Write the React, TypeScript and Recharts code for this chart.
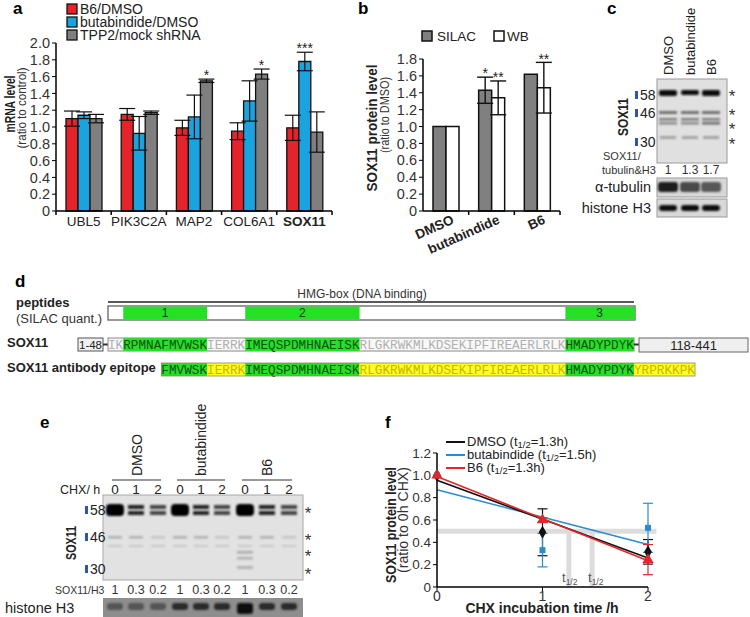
import React from 'react';
import {
  BarChart, Bar, XAxis, YAxis, ErrorBar, LabelList,
  ComposedChart, Line, Scatter, ReferenceLine, Symbols,
} from 'recharts';

const FONT = '"Liberation Sans", Arial, Helvetica, sans-serif';
const MONO = '"Liberation Mono", "Courier New", monospace';

// ---- panel a: mRNA levels
const genes = ['UBL5', 'PIK3C2A', 'MAP2', 'COL6A1', 'SOX11'];
const b6Dmso = [1.10, 1.15, 0.99, 0.95, 0.99];
const b6DmsoErr = [0.09, 0.07, 0.09, 0.10, 0.15];
const butaDmso = [1.14, 0.925, 1.12, 1.31, 1.78];
const butaDmsoErr = [0.04, 0.20, 0.26, 0.24, 0.11];
const tpp2Mock = [1.10, 1.17, 1.55, 1.63, 0.94];
const tpp2MockErr = [0.05, 0.02, 0.02, 0.06, 0.24];
const butaStars = ['', '', '', '', '***'];
const tpp2Stars = ['', '', '*', '*', ''];
const legendA = ['B6/DMSO', 'butabindide/DMSO', 'TPP2/mock shRNA'];
const colorsA = ['#e4232b', '#1ba3e0', '#7f7f7f'];
const ticksA = [0, 0.2, 0.4, 0.6, 0.8, 1.0, 1.2, 1.4, 1.6, 1.8, 2.0];

// ---- panel b: SOX11 protein
const treatments = ['DMSO', 'butabindide', 'B6'];
const silac = [1.0, 1.43, 1.62];
const silacErr = [0, 0.155, 0];
const wb = [1.0, 1.34, 1.46];
const wbErr = [0, 0.2, 0.3];
const silacStars = ['', '*', ''];
const wbStars = ['', '**', '**'];
const ticksB = [0, 0.2, 0.4, 0.6, 0.8, 1.0, 1.2, 1.4, 1.6, 1.8];

// ---- panel c: blot quantification
const lanesC = ['DMSO', 'butabindide', 'B6'];
const ratioC = ['1', '1.3', '1.7'];

// ---- panel e: CHX chase
const groupsE = ['DMSO', 'butabindide', 'B6'];
const chxHours = ['0', '1', '2'];
const ratioE = ['1', '0.3', '0.2'];

// ---- panel f: decay
const timeH = [0, 1, 2];
const dmsoMean = [1.0, 0.49, 0.315];
const dmsoErr = [0, 0.21, 0.11];
const butaMean = [1.0, 0.33, 0.53];
const butaErr = [0, 0.15, 0.22];
const b6Mean = [1.0, 0.60, 0.245];
const b6Err = [0, 0.02, 0.135];
const fitTimes = [0, 2];
const dmsoFit = [0.955, 0.26];
const butaFit = [0.87, 0.38];
const b6Fit = [0.99, 0.235];
const halfLives = [1.25, 1.47];
const ticksF = [0, 0.2, 0.4, 0.6, 0.8, 1.0, 1.2];

// ---- panel d: sequence
const sox11Seq: [string, string][] = [
  ['IK', 'plain'], ['RPMNAFMVWSK', 'pep'], ['IERRK', 'plain'],
  ['IMEQSPDMHNAEISK', 'pep'], ['RLGKRWKMLKDSEKIPFIREAERLRLK', 'plain'], ['HMADYPDYK', 'pep'],
];
const epitopeSeq: [string, string][] = [
  ['FMVWSK', 'pep'], ['IERRK', 'epi'], ['IMEQSPDMHNAEISK', 'pep'],
  ['RLGKRWKMLKDSEKIPFIREAERLRLK', 'epi'], ['HMADYPDYK', 'pep'], ['YRPRKKPK', 'epi'],
];
const epitopeStart = 7;
const peptideNames = ['1', '2', '3'];

const fmt = (v: number) => (v === 0 ? '0' : v.toFixed(1));

const A_W = 276;
const A_PPU = 84;
const B_W = 137;
const B_PPU = 84;

const starContent = (errs: number[], ppu: number) => (p: any) => {
  const vb = p.viewBox ?? p;
  const v = p.value;
  if (!v) return null;
  const i = p.index ?? 0;
  return (
    <text x={vb.x + vb.width / 2} y={vb.y - errs[i] * ppu + 1} textAnchor="middle" fontSize={14} fill="#222">
      {v}
    </text>
  );
};

const GeneTick = (p: any) => {
  const { x, y, payload, index } = p;
  const bw = A_W / genes.length;
  return (
    <g>
      <line x1={x - bw / 2} x2={x - bw / 2} y1={y} y2={y + 4} stroke="#000" strokeWidth={1.5} />
      {index === genes.length - 1 && (
        <line x1={x + bw / 2} x2={x + bw / 2} y1={y} y2={y + 4} stroke="#000" strokeWidth={1.5} />
      )}
      <text x={x} y={y + 15} textAnchor="middle" fontSize={13.5} fill="#222"
        fontWeight={payload.value === 'SOX11' ? 'bold' : 'normal'}>{payload.value}</text>
    </g>
  );
};

const TreatTick = (p: any) => {
  const { x, y, payload, index } = p;
  const bw = B_W / treatments.length;
  return (
    <g>
      {index > 0 && <line x1={x - bw / 2} x2={x - bw / 2} y1={y} y2={y + 4} stroke="#000" strokeWidth={1.5} />}
      {index === treatments.length - 1 && (
        <line x1={x + bw / 2} x2={x + bw / 2} y1={y} y2={y + 4} stroke="#000" strokeWidth={1.5} />
      )}
      <text transform={`translate(${x + 9},${y + 12}) rotate(-24)`} textAnchor="end" fontSize={13.5}
        fontWeight="bold" fill="#222">{payload.value}</text>
    </g>
  );
};

function PanelA() {
  const data = genes.map((g, i) => ({
    gene: g, b6: b6Dmso[i], b6e: b6DmsoErr[i],
    buta: butaDmso[i], butae: butaDmsoErr[i], butas: butaStars[i],
    tpp2: tpp2Mock[i], tpp2e: tpp2MockErr[i], tpp2s: tpp2Stars[i],
  }));
  return (
    <div style={{ position: 'absolute', left: 0, top: 0 }}>
      <BarChart width={340} height={240} data={data} margin={{ top: 43, right: 8, bottom: 0, left: 0 }} barGap={0}>
        <YAxis width={56} domain={[0, 2]} ticks={ticksA} interval={0} tickFormatter={fmt} tickSize={4}
          axisLine={{ stroke: '#000', strokeWidth: 1.5 }} tickLine={{ stroke: '#000' }}
          tick={{ fill: '#333', fontSize: 14.5 }} />
        <XAxis dataKey="gene" height={29} tickSize={0} tickMargin={0} interval={0} tickLine={false}
          axisLine={{ stroke: '#000', strokeWidth: 1.5 }} tick={<GeneTick />} />
        <Bar dataKey="b6" fill={colorsA[0]} stroke="#111" strokeWidth={1.3} barSize={12} isAnimationActive={false}>
          <ErrorBar dataKey="b6e" width={8} stroke="#111" strokeWidth={1.2} />
        </Bar>
        <Bar dataKey="buta" fill={colorsA[1]} stroke="#111" strokeWidth={1.3} barSize={12} isAnimationActive={false}>
          <ErrorBar dataKey="butae" width={8} stroke="#111" strokeWidth={1.2} />
          <LabelList dataKey="butas" content={starContent(butaDmsoErr, A_PPU)} />
        </Bar>
        <Bar dataKey="tpp2" fill={colorsA[2]} stroke="#111" strokeWidth={1.3} barSize={12} isAnimationActive={false}>
          <ErrorBar dataKey="tpp2e" width={8} stroke="#111" strokeWidth={1.2} />
          <LabelList dataKey="tpp2s" content={starContent(tpp2MockErr, A_PPU)} />
        </Bar>
      </BarChart>
    </div>
  );
}

function PanelB() {
  const data = treatments.map((t, i) => ({
    t, s: silac[i], se: silacErr[i], ss: silacStars[i], w: wb[i], we: wbErr[i], ws: wbStars[i],
  }));
  return (
    <div style={{ position: 'absolute', left: 340, top: 0 }}>
      <BarChart width={230} height={265} data={data} margin={{ top: 59, right: 10, bottom: 0, left: 0 }} barGap={0}>
        <YAxis width={83} domain={[0, 1.8]} ticks={ticksB} interval={0} tickFormatter={fmt} tickSize={4}
          axisLine={{ stroke: '#000', strokeWidth: 1.5 }} tickLine={{ stroke: '#000' }}
          tick={{ fill: '#333', fontSize: 14.5 }} />
        <XAxis dataKey="t" height={54} tickSize={0} tickMargin={0} interval={0} tickLine={false}
          axisLine={{ stroke: '#000', strokeWidth: 1.5 }} tick={<TreatTick />} />
        <Bar dataKey="s" fill="#808080" stroke="#111" strokeWidth={1.5} barSize={13} isAnimationActive={false}>
          <ErrorBar dataKey="se" width={8} stroke="#111" strokeWidth={1.4} />
          <LabelList dataKey="ss" content={starContent(silacErr, B_PPU)} />
        </Bar>
        <Bar dataKey="w" fill="#fff" stroke="#111" strokeWidth={1.5} barSize={13} isAnimationActive={false}>
          <ErrorBar dataKey="we" width={8} stroke="#111" strokeWidth={1.4} />
          <LabelList dataKey="ws" content={starContent(wbErr, B_PPU)} />
        </Bar>
      </BarChart>
    </div>
  );
}

const shapeOf = (type: any, fill: string, size: number) => (p: any) =>
  <Symbols cx={p.cx} cy={p.cy} type={type} size={size} fill={fill} />;

function PanelF() {
  const pts = (m: number[], e: number[]) => timeH.map((x, i) => ({ x, y: m[i], e: e[i] }));
  const fit = (f: number[]) => fitTimes.map((x, i) => ({ x, y: f[i] }));
  const gray = '#dcdcdc';
  return (
    <div style={{ position: 'absolute', left: 370, top: 400 }}>
      <ComposedChart width={380} height={217} margin={{ top: 53, right: 102, bottom: 0, left: 0 }}>
        <XAxis type="number" dataKey="x" domain={[0, 2]} ticks={timeH} interval={0} height={30} tickSize={4}
          tickMargin={0} axisLine={{ stroke: '#000', strokeWidth: 1.5 }} tickLine={{ stroke: '#000' }}
          tick={{ fill: '#333', fontSize: 14 }} />
        <YAxis type="number" dataKey="y" domain={[0, 1.2]} ticks={ticksF} interval={0} width={67} tickSize={4}
          tickFormatter={fmt} axisLine={{ stroke: '#000', strokeWidth: 1.5 }} tickLine={{ stroke: '#000' }}
          tick={{ fill: '#333', fontSize: 13.5 }} />
        <ReferenceLine segment={[{ x: 0, y: 0.5 }, { x: 2.08, y: 0.5 }]} stroke={gray} strokeWidth={5} ifOverflow="visible" />
        {halfLives.map((h) => (
          <ReferenceLine key={h} segment={[{ x: h, y: 0 }, { x: h, y: 0.5 }]} stroke={gray} strokeWidth={5} ifOverflow="visible" />
        ))}
        <Line data={fit(butaFit)} dataKey="y" type="linear" stroke="#2a8ccc" strokeWidth={1.6} dot={false} activeDot={false} isAnimationActive={false} />
        <Line data={fit(dmsoFit)} dataKey="y" type="linear" stroke="#111" strokeWidth={1.6} dot={false} activeDot={false} isAnimationActive={false} />
        <Line data={fit(b6Fit)} dataKey="y" type="linear" stroke="#e3262b" strokeWidth={1.6} dot={false} activeDot={false} isAnimationActive={false} />
        <Scatter data={pts(dmsoMean, dmsoErr)} dataKey="y" shape={shapeOf('diamond', '#111', 50)} isAnimationActive={false}>
          <ErrorBar dataKey="e" direction="y" width={5} stroke="#111" strokeWidth={1.2} />
        </Scatter>
        <Scatter data={pts(butaMean, butaErr)} dataKey="y" shape={shapeOf('square', '#2a8ccc', 36)} isAnimationActive={false}>
          <ErrorBar dataKey="e" direction="y" width={5} stroke="#2a8ccc" strokeWidth={1.2} />
        </Scatter>
        <Scatter data={pts(b6Mean, b6Err)} dataKey="y" shape={shapeOf('triangle', '#e3262b', 55)} isAnimationActive={false}>
          <ErrorBar dataKey="e" direction="y" width={5} stroke="#e3262b" strokeWidth={1.2} />
        </Scatter>
      </ComposedChart>
    </div>
  );
}

function Marker({ x, y, label }: { x: number; y: number; label: string }) {
  return (
    <g>
      <rect x={x} y={y - 4} width={3} height={8} fill="#2b55b0" />
      <text x={x + 5} y={y + 5} fontSize={14} fill="#222">{label}</text>
    </g>
  );
}

function Star({ x, y }: { x: number; y: number }) {
  return <text x={x} y={y + 9} fontSize={17} fill="#333" textAnchor="middle">*</text>;
}

// rotated axis title, squeezed to the length seen in the figure
function VText({ x, y, len, bold, size, children }: any) {
  return (
    <text transform={`translate(${x},${y}) rotate(-90)`} textAnchor="middle" fontSize={size}
      fontWeight={bold ? 'bold' : 'normal'} fill={bold ? '#222' : '#333'}
      textLength={len} lengthAdjust="spacingAndGlyphs">{children}</text>
  );
}

function Overlay() {
  const laneXc = [668, 690, 711];
  const laneXe = [115, 136, 158, 180, 201, 222, 245, 267, 289];
  const seqX0 = 108;
  const cw = 526 / 69;
  const green = '#26e026';
  const yellow = '#ffff22';
  let idx = 0;
  const soxRow = sox11Seq.map(([s, kind]) => {
    const x = seqX0 + idx * cw;
    idx += s.length;
    return { s, kind, x, w: s.length * cw };
  });
  idx = epitopeStart;
  const epiRow = epitopeSeq.map(([s, kind]) => {
    const x = seqX0 + idx * cw;
    idx += s.length;
    return { s, kind, x, w: s.length * cw };
  });
  const peps = soxRow.filter((r) => r.kind === 'pep');
  const textColor = (k: string) => (k === 'pep' ? '#0d520d' : k === 'epi' ? '#c9b400' : '#b0b0b0');

  return (
    <svg width={750} height={617} style={{ position: 'absolute', left: 0, top: 0, pointerEvents: 'none' }}
      fontFamily={FONT}>
      <defs>
        <filter id="bl" x="-20%" y="-50%" width="140%" height="200%">
          <feGaussianBlur stdDeviation="0.9" />
        </filter>
      </defs>

      {/* panel a */}
      <text x={13} y={14} fontSize={17} fontWeight="bold">a</text>
      {legendA.map((l, i) => (
        <g key={l}>
          <rect x={67} y={4 + 13 * i} width={10} height={10} fill={colorsA[i]} stroke="#111" strokeWidth={1.3} />
          <text x={80} y={13.5 + 13 * i} fontSize={14} fill="#222">{l}</text>
        </g>
      ))}
      <VText x={15} y={104} len={57} bold size={15.5}>mRNA level</VText>
      <VText x={26} y={108} len={81} size={13.5}>(ratio to control)</VText>

      {/* panel b */}
      <text x={358} y={14} fontSize={17} fontWeight="bold">b</text>
      <rect x={422} y={31} width={10} height={10} fill="#808080" stroke="#111" strokeWidth={1.5} />
      <text x={437} y={40.5} fontSize={13.5} fill="#222">SILAC</text>
      <rect x={494} y={31} width={10} height={10} fill="#fff" stroke="#111" strokeWidth={1.5} />
      <text x={507} y={40.5} fontSize={13.5} fill="#222">WB</text>
      <VText x={377} y={128} len={127} bold size={15}>SOX11 protein level</VText>
      <VText x={389} y={115} len={76} size={13}>(ratio to DMSO)</VText>

      {/* panel c */}
      <text x={607} y={14} fontSize={17} fontWeight="bold">c</text>
      {lanesC.map((l, i) => (
        <text key={l} transform={`translate(${laneXc[i] + 5},75) rotate(-90)`} fontSize={13} fill="#222">{l}</text>
      ))}
      <rect x={657} y={79} width={70} height={84} fill="#e0e0e0" stroke="#9a9a9a" />
      {laneXc.map((x, i) => (
        <g key={x} filter="url(#bl)">
          <rect x={x - 9} y={90} width={18} height={i === 1 ? 5 : 6} rx={2} fill="#0d0d0d" />
          <rect x={x - 9} y={111} width={18} height={3} fill="#707070" />
          <rect x={x - 9} y={118} width={18} height={2.5} fill="#7c7c7c" />
          <rect x={x - 9} y={122} width={18} height={2.5} fill={i === 2 ? '#6a6a6a' : '#8a8a8a'} />
          <rect x={x - 8} y={136} width={16} height={3} fill="#a4a4a4" />
        </g>
      ))}
      <Marker x={635} y={95} label="58" />
      <Marker x={635} y={113} label="46" />
      <Marker x={635} y={142} label="30" />
      <VText x={628} y={117} len={38} bold size={15}>SOX11</VText>
      {[93, 112, 126, 141].map((y) => <Star key={y} x={732} y={y} />)}
      <text x={603} y={160} fontSize={11} fill="#333">SOX11/</text>
      <text x={602} y={174} fontSize={11} fill="#333">tubulin&amp;H3</text>
      {ratioC.map((r, i) => (
        <text key={i} x={laneXc[i]} y={174} fontSize={12} textAnchor="middle" fill="#333">{r}</text>
      ))}
      <rect x={657} y={178} width={70} height={19} fill="#d8d8d8" stroke="#9a9a9a" />
      {laneXc.map((x, i) => (
        <rect key={x} x={x - 10} y={182} width={20} height={10} rx={3} filter="url(#bl)"
          fill={['#1a1a1a', '#4a4a4a', '#585858'][i]} />
      ))}
      <rect x={657} y={199} width={70} height={18} fill="#d8d8d8" stroke="#9a9a9a" />
      {laneXc.map((x) => (
        <rect key={x} x={x - 9} y={205} width={18} height={6} rx={3} filter="url(#bl)" fill="#111" />
      ))}
      <text x={651} y={192} fontSize={14.5} textAnchor="end" fill="#222">α-tubulin</text>
      <text x={651} y={213} fontSize={14.5} textAnchor="end" fill="#222">histone H3</text>

      {/* panel d */}
      <text x={15} y={287} fontSize={17} fontWeight="bold">d</text>
      <text x={16} y={307} fontSize={13} fontWeight="bold" fill="#222">peptides</text>
      <text x={16} y={323} fontSize={13} fill="#333">(SILAC quant.)</text>
      <line x1={108} x2={634} y1={302} y2={302} stroke="#222" strokeWidth={1.5} />
      <text x={362} y={298} fontSize={12} textAnchor="middle" fill="#333">HMG-box (DNA binding)</text>
      <rect x={108} y={306} width={527} height={14} fill="#fff" stroke="#555" strokeWidth={1.2} />
      {peps.map((p, i) => (
        <g key={i}>
          <rect x={p.x} y={306.6} width={p.w + (i === 2 ? 1 : 0)} height={12.8} fill={green} />
          <text x={p.x + p.w / 2} y={317} fontSize={12} textAnchor="middle" fill="#1a3a1a">{peptideNames[i]}</text>
        </g>
      ))}

      <text x={7} y={347} fontSize={13} fontWeight="bold" fill="#222">SOX11</text>
      <rect x={78} y={338} width={25} height={13} fill="#f0f0f0" stroke="#555" />
      <text x={90.5} y={348.5} fontSize={11.5} textAnchor="middle" fill="#222">1-48</text>
      <line x1={103} x2={108} y1={344.5} y2={344.5} stroke="#333" strokeWidth={2} />
      <rect x={108} y={338} width={526} height={13} fill="#f8f8f8" stroke="#888" />
      {soxRow.map((r, i) => (
        <g key={i}>
          {r.kind === 'pep' && <rect x={r.x} y={338} width={r.w} height={13} fill={green} />}
          <text x={r.x} y={348.5} fontSize={12.6} fontFamily={MONO} textLength={r.w} lengthAdjust="spacingAndGlyphs"
            fill={textColor(r.kind)}>{r.s}</text>
        </g>
      ))}
      <line x1={634} x2={639} y1={344.5} y2={344.5} stroke="#333" strokeWidth={2} />
      <rect x={639} y={338} width={109} height={14} fill="#efefef" stroke="#666" />
      <text x={693.5} y={349.5} fontSize={13} textAnchor="middle" fill="#222">118-441</text>

      <text x={7} y={372} fontSize={13} fontWeight="bold" fill="#222">SOX11 antibody epitope</text>
      {epiRow.map((r, i) => (
        <g key={i}>
          <rect x={r.x} y={363} width={r.w} height={13} fill={r.kind === 'pep' ? green : yellow} />
          <text x={r.x} y={373.5} fontSize={12.6} fontFamily={MONO} textLength={r.w} lengthAdjust="spacingAndGlyphs"
            fill={textColor(r.kind)}>{r.s}</text>
        </g>
      ))}
      <rect x={epiRow[0].x} y={363} width={epiRow[epiRow.length - 1].x + epiRow[epiRow.length - 1].w - epiRow[0].x}
        height={13} fill="none" stroke="#8a8a50" strokeWidth={0.8} />

      {/* panel e */}
      <text x={40} y={428} fontSize={17} fontWeight="bold">e</text>
      {groupsE.map((g, gi) => {
        const xs = laneXe.slice(gi * 3, gi * 3 + 3);
        const cx = (xs[0] + xs[2]) / 2;
        return (
          <g key={g}>
            <text transform={`translate(${cx + 5},476) rotate(-90)`} fontSize={14} fill="#222">{g}</text>
            <line x1={xs[0] - 3} x2={xs[2] + 3} y1={480} y2={480} stroke="#333" strokeWidth={1.2} />
            {chxHours.map((h, hi) => (
              <text key={hi} x={xs[hi]} y={494} fontSize={13.5} textAnchor="middle" fill="#222">{h}</text>
            ))}
            {ratioE.map((r, hi) => (
              <text key={hi} x={xs[hi]} y={594} fontSize={12.5} textAnchor="middle" fill="#333">{r}</text>
            ))}
          </g>
        );
      })}
      <text x={60} y={494} fontSize={12.5} fill="#222">CHX/ h</text>
      <rect x={103} y={495} width={200} height={85} fill="#e2e2e2" stroke="#a8a8a8" />
      {laneXe.map((x, i) => {
        const first = i % 3 === 0;
        return (
          <g key={x} filter="url(#bl)">
            {first ? (
              <rect x={x - 9} y={504} width={18} height={12} rx={4} fill="#050505" />
            ) : (
              <>
                <rect x={x - 8} y={505} width={16} height={4} fill={i % 3 === 1 ? '#222' : '#444'} />
                <rect x={x - 8} y={511} width={16} height={4} fill={i % 3 === 1 ? '#222' : '#444'} />
              </>
            )}
            <rect x={x - 7} y={536} width={14} height={2.5} fill={first || i % 3 === 1 ? '#b0b0b0' : '#c4c4c4'} />
            <rect x={x - 7} y={545} width={14} height={2} fill="#c6c6c6" />
            {i === 6 && (
              <>
                <rect x={x - 8} y={551} width={16} height={2.5} fill="#aaa" />
                <rect x={x - 8} y={557} width={16} height={2.5} fill="#b0b0b0" />
                <rect x={x - 8} y={566} width={16} height={3} fill="#b4b4b4" />
              </>
            )}
          </g>
        );
      })}
      <Marker x={85} y={510} label="58" />
      <Marker x={85} y={537} label="46" />
      <Marker x={85} y={569} label="30" />
      <VText x={76} y={543} len={34} bold size={15.5}>SOX11</VText>
      {[510, 537, 553, 571].map((y) => <Star key={y} x={308} y={y} />)}
      <text x={55} y={594} fontSize={10.5} fill="#333">SOX11/H3</text>
      <rect x={103} y={598} width={200} height={19} fill="#8e8e8e" />
      {laneXe.map((x, i) => (
        <rect key={x} x={x - 8} y={603} width={16} height={i === 6 ? 11 : 7} rx={3} filter="url(#bl)"
          fill={i === 6 ? '#0a0a0a' : i < 3 ? '#555' : '#2a2a2a'} />
      ))}
      <text x={5} y={613} fontSize={14.5} fill="#222">histone H3</text>

      {/* panel f */}
      <text x={385} y={428} fontSize={17} fontWeight="bold">f</text>
      {[
        { c: '#111', y: 442, name: 'DMSO', t: '1.3' },
        { c: '#2a8ccc', y: 455, name: 'butabindide', t: '1.5' },
        { c: '#e3262b', y: 468, name: 'B6', t: '1.3' },
      ].map((l) => (
        <g key={l.name}>
          <line x1={446} x2={465} y1={l.y} y2={l.y} stroke={l.c} strokeWidth={2} />
          <text x={467} y={l.y + 4} fontSize={13} fill="#222">
            {l.name} (t<tspan fontSize={9.5} dy={2}>1/2</tspan><tspan dy={-2}>={l.t}h)</tspan>
          </text>
        </g>
      ))}
      <VText x={396} y={525} len={116} bold size={14.5}>SOX11 protein level</VText>
      <VText x={408} y={520} len={106} size={14}>(ratio to 0h CHX)</VText>
      <text x={542} y={613} fontSize={14} fontWeight="bold" textAnchor="middle" fill="#222">CHX incubation time /h</text>
      {[562, 588].map((x) => (
        <text key={x} x={x} y={582} fontSize={13} fill="#555">t<tspan fontSize={8.5} dy={3}>1/2</tspan></text>
      ))}
    </svg>
  );
}

export default function App() {
  return (
    <div style={{ position: 'absolute', left: 0, top: 0, width: 750, height: 617, background: '#fff', overflow: 'hidden', fontFamily: FONT }}>
      <PanelA />
      <PanelB />
      <PanelF />
      <Overlay />
    </div>
  );
}
